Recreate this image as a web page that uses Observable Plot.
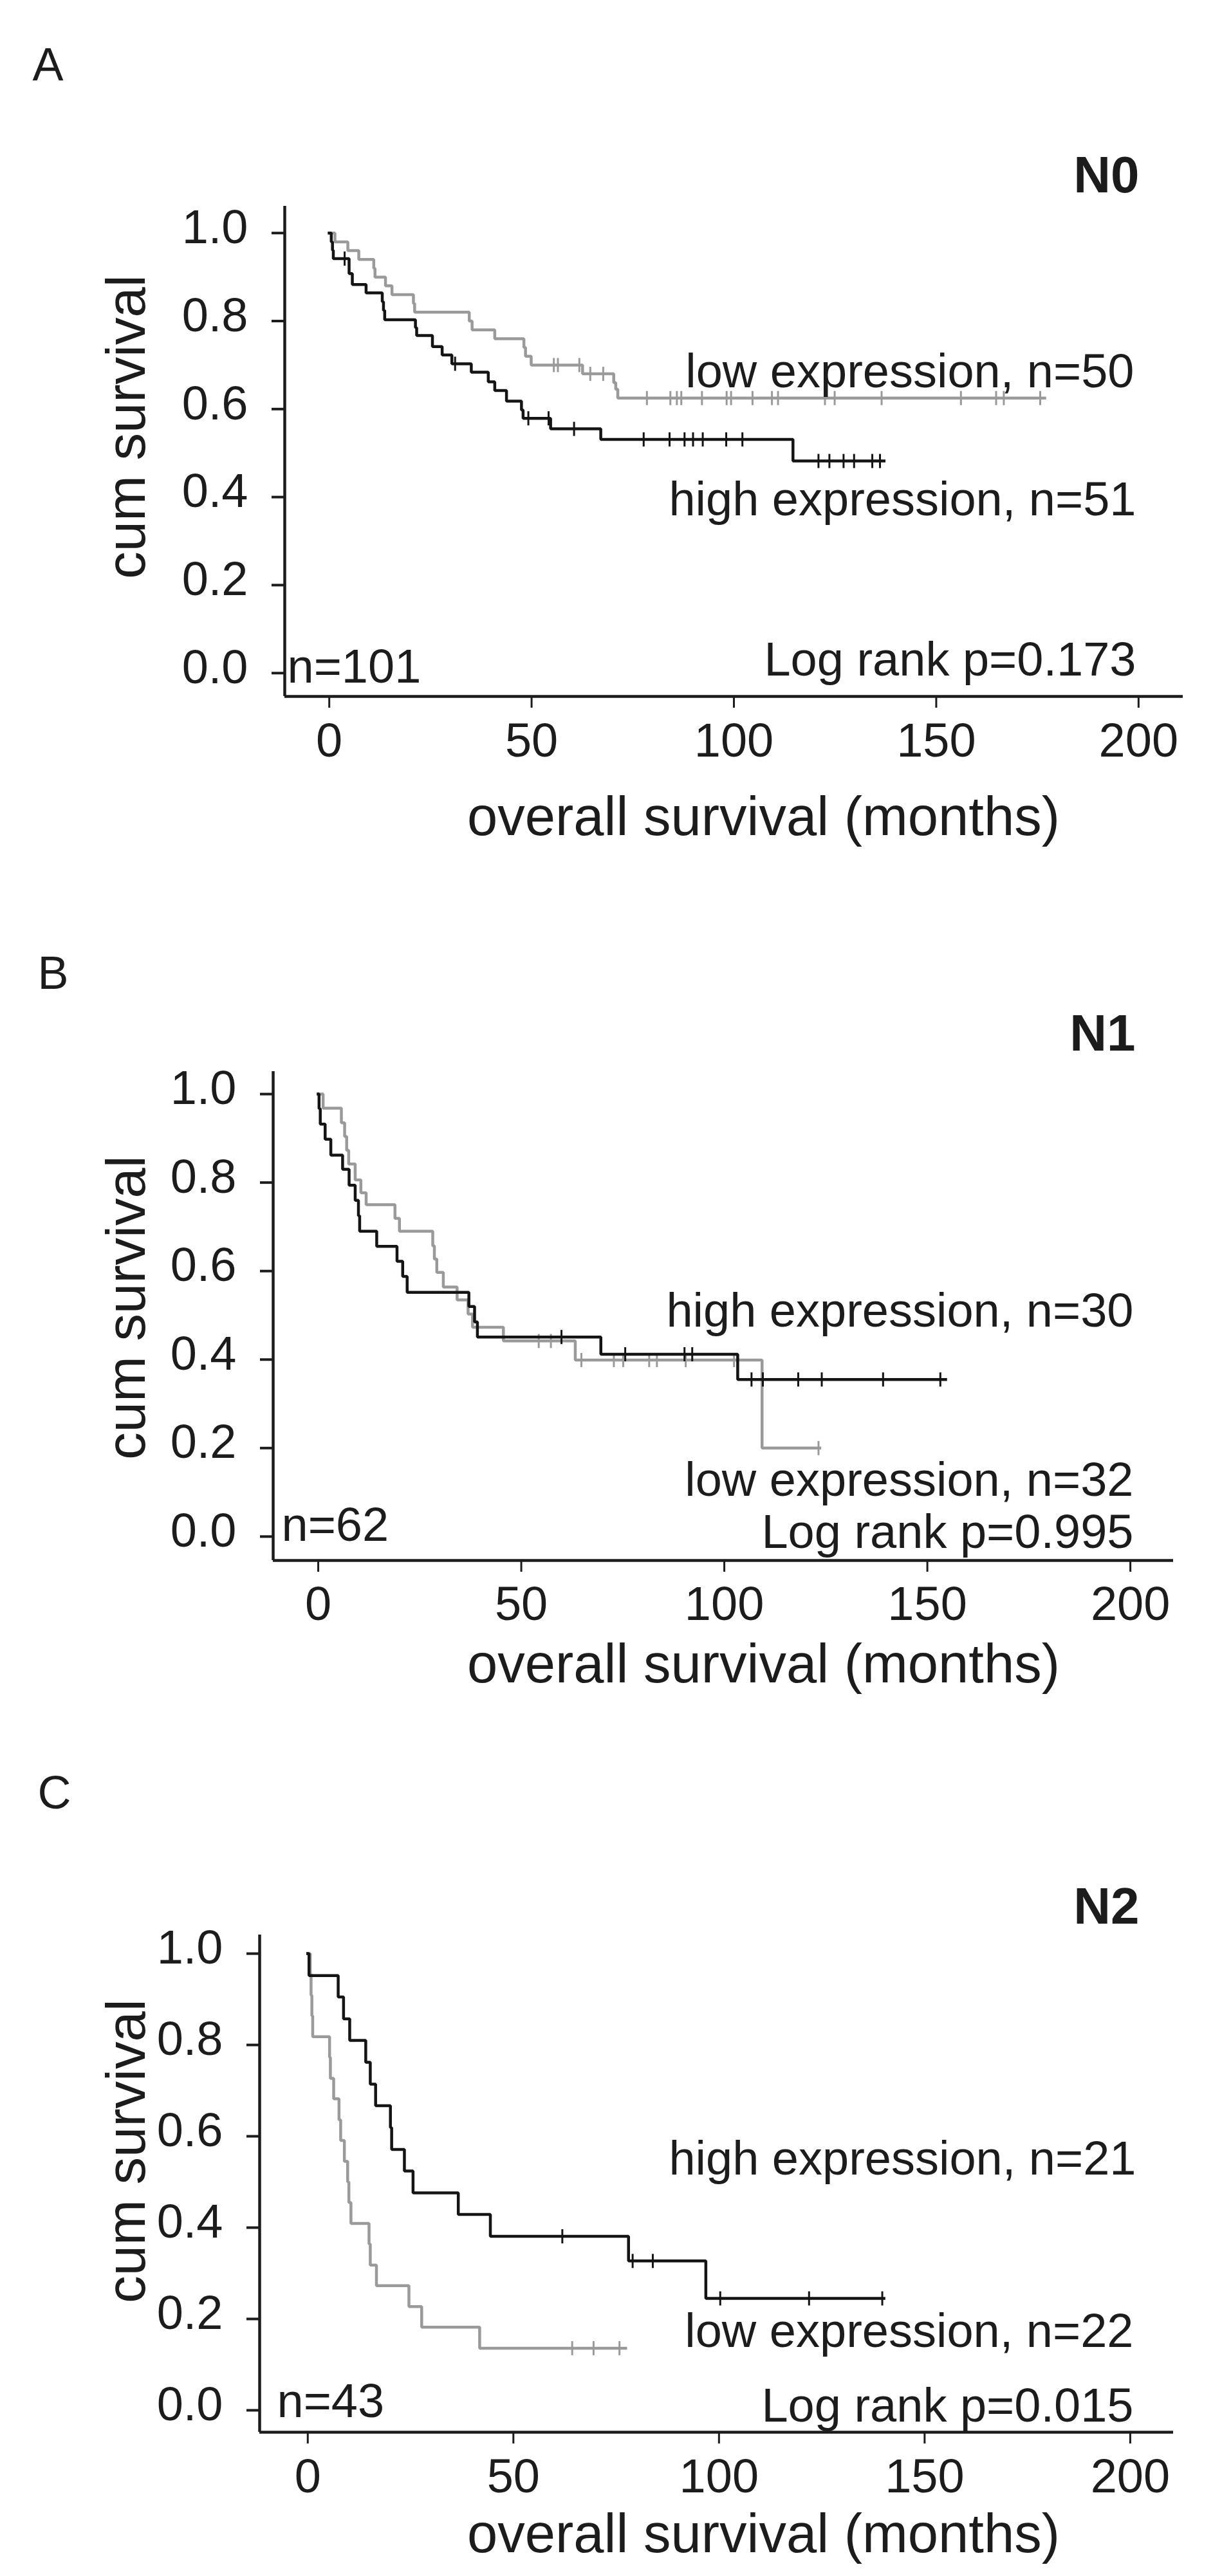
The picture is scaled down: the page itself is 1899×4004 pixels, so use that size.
<!DOCTYPE html>
<html><head><meta charset="utf-8">
<script src="https://cdn.jsdelivr.net/npm/d3@7"></script>
<script src="https://cdn.jsdelivr.net/npm/@observablehq/plot@0.6"></script>
<style>
html,body{margin:0;padding:0;background:#fff;overflow:hidden;}
#page{position:relative;width:1899px;height:4004px;background:#fff;}
#page svg{position:absolute;left:0;max-width:none !important;}
</style></head><body><div id="page"></div>
<script>
// ---------- tick labels ----------
const xTicks = [0, 50, 100, 150, 200];
const yTicks = [0, 0.2, 0.4, 0.6, 0.8, 1.0];

// ---------- Panel A : N0 ----------
const n0HighTime = [0, 0.5, 0.8, 1.0, 4.9, 5.7, 9.1, 13.1, 13.4, 13.7, 21.3, 21.6, 25.5, 27.9, 30.3, 35.1, 39.3, 40.9, 43.8, 47.5, 47.9, 54.7, 67.1, 114.6];
const n0HighSurv = [1, 0.98, 0.961, 0.942, 0.908, 0.883, 0.864, 0.844, 0.824, 0.803, 0.785, 0.767, 0.742, 0.723, 0.703, 0.684, 0.662, 0.642, 0.618, 0.598, 0.579, 0.555, 0.531, 0.482];
const n0HighEnd = 137.1;
const n0HighCensor = [3.8, 31.1, 49.2, 54.2, 60.5, 77.7, 84.1, 87.8, 89.9, 92.3, 98.1, 102.1, 120.9, 123.6, 127.1, 129.7, 134.2, 136.1];

const n0LowTime = [0, 1.4, 4.6, 7.3, 11.0, 11.3, 13.9, 15.5, 20.8, 21.1, 34.6, 35.3, 40.9, 48.1, 48.5, 49.9, 62.6, 70.3, 70.8, 71.3];
const n0LowSurv = [1, 0.98, 0.96, 0.94, 0.92, 0.90, 0.88, 0.86, 0.84, 0.82, 0.80, 0.78, 0.76, 0.74, 0.72, 0.70, 0.68, 0.66, 0.645, 0.625];
const n0LowEnd = 176.8;
const n0LowCensor = [55.5, 56.5, 61.8, 64.5, 67.7, 78.5, 84.3, 85.9, 87.0, 92.1, 98.2, 99.3, 104.6, 109.4, 110.9, 122.5, 124.9, 136.5, 156.1, 164.8, 166.7, 175.7];

// ---------- Panel B : N1 ----------
const n1HighTime = [0, 0.2, 0.5, 1.7, 3.1, 6.0, 7.6, 9.1, 9.9, 10.2, 14.4, 19.4, 20.8, 21.9, 37.1, 38.5, 39.2, 69.6, 103.3];
const n1HighSurv = [1, 0.967, 0.932, 0.898, 0.862, 0.83, 0.794, 0.76, 0.725, 0.69, 0.656, 0.622, 0.588, 0.552, 0.52, 0.485, 0.451, 0.412, 0.355];
const n1HighEnd = 154.5;
const n1HighCensor = [59.9, 75.6, 90.2, 92.1, 106.7, 109.5, 118.2, 124.0, 139.1, 153.2];

const n1LowTime = [0, 1.2, 5.7, 6.5, 7.0, 7.5, 9.1, 10.5, 11.8, 18.9, 20.0, 28.2, 28.6, 29.2, 30.8, 34.2, 36.9, 38.0, 45.6, 63.3, 109.3];
const n1LowSurv = [1, 0.968, 0.935, 0.904, 0.873, 0.842, 0.806, 0.777, 0.75, 0.719, 0.69, 0.657, 0.627, 0.597, 0.564, 0.535, 0.503, 0.473, 0.442, 0.399, 0.2];
const n1LowEnd = 123.5;
const n1LowCensor = [54.3, 57.3, 64.8, 72.8, 75.1, 81.5, 83.4, 90.5, 102.4, 123.2];

// ---------- Panel C : N2 ----------
const n2HighTime = [0, 0.3, 7.4, 8.7, 10.2, 14.1, 15.2, 16.5, 20.1, 20.4, 23.5, 25.6, 36.6, 44.4, 78.0, 96.8];
const n2HighSurv = [1, 0.952, 0.905, 0.857, 0.81, 0.762, 0.714, 0.667, 0.619, 0.571, 0.524, 0.476, 0.429, 0.381, 0.327, 0.245];
const n2HighEnd = 140.1;
const n2HighCensor = [61.9, 79.0, 83.9, 100.3, 121.9, 139.7];

const n2LowTime = [0, 0.6, 0.8, 1.0, 1.2, 5.3, 5.5, 6.3, 7.6, 8.0, 8.9, 9.7, 10.0, 10.5, 14.9, 15.2, 16.7, 24.6, 27.7, 41.8];
const n2LowSurv = [1, 0.955, 0.909, 0.864, 0.818, 0.773, 0.727, 0.682, 0.636, 0.591, 0.545, 0.5, 0.455, 0.409, 0.364, 0.318, 0.273, 0.227, 0.182, 0.136];
const n2LowEnd = 77.3;
const n2LowCensor = [64.3, 69.5, 75.8];

// ---------- text ----------
const xLabel = "overall survival (months)";
const yLabel = "cum survival";

// ---------- styling ----------
const FONT = "'Liberation Sans', Arial, Helvetica, sans-serif";
const INK = "#1c1c1c";
const HIGH = "#141414";
const LOW = "#9a9a9a";

function stepPoints(time, surv, end) {
  const pts = time.map((t, i) => ({t, s: surv[i]}));
  pts.push({t: end, s: surv[surv.length - 1]});
  return pts;
}
function censorPoints(time, surv, cens) {
  return cens.map(c => {
    const i = Math.max(0, d3.bisectRight(time, c) - 1);
    return {t: c, s: surv[i]};
  });
}
const vbar = {draw(ctx, size) { const h = Math.sqrt(size / Math.PI); ctx.moveTo(0, -h); ctx.lineTo(0, h); }};

function panel(p) {
  const [fl, fr, ft, fb] = p.frame;
  const note = (text, x, y, o = {}) => Plot.text([text], {
    text: d => d, frameAnchor: "top-left", dx: x - fl, dy: y - ft,
    lineAnchor: "bottom", textAnchor: o.anchor || "start",
    fontSize: o.size || 74, fontWeight: o.weight || "normal",
    rotate: o.rotate || 0, fill: INK
  });
  const marks = [];
  for (const s of p.series) {
    marks.push(Plot.line(stepPoints(s.time, s.surv, s.end), {x: "t", y: "s", curve: "step-after", stroke: s.color, strokeWidth: 4.5, strokeLinejoin: "miter", strokeLinecap: "square"}));
    marks.push(Plot.dot(censorPoints(s.time, s.surv, s.censor), {x: "t", y: "s", symbol: vbar, r: 11, stroke: s.color, strokeWidth: 3, fill: "none"}));
  }
  marks.push(
    Plot.axisY({ticks: yTicks, tickSize: 20, fill: "none", label: null, stroke: INK, strokeWidth: 4}),
    Plot.axisY({ticks: yTicks, tickSize: 0, tickPadding: 57, dy: p.yLabelDy, label: null, fill: INK, tickFormat: d3.format(".1f")}),
    Plot.axisX({ticks: xTicks, tickSize: 18, fill: "none", label: null, stroke: INK, strokeWidth: 3}),
    Plot.axisX({ticks: xTicks, tickSize: 0, tickPadding: p.xPad, label: null, fill: INK, tickFormat: d3.format("d")}),
    Plot.ruleX([p.xDomain[0]], {stroke: INK, strokeWidth: 4.5}),
    Plot.ruleY([p.yDomain[0]], {stroke: INK, strokeWidth: 4.5})
  );
  for (const t of p.texts) marks.push(note(t[0], t[1], t[2], t[3]));
  const svg = Plot.plot({
    width: 1899, height: p.height,
    marginLeft: fl, marginRight: 1899 - fr, marginTop: ft - p.top, marginBottom: p.top + p.height - fb,
    x: {domain: p.xDomain}, y: {domain: p.yDomain},
    style: {fontFamily: FONT, fontSize: "74px", color: INK, background: "#fff", overflow: "visible"},
    marks
  });
  svg.style.top = p.top + "px";
  return svg;
}

const page = document.getElementById("page");
page.append(panel({
  top: 0, height: 1330, frame: [442, 1838, 320, 1082],
  xDomain: [-11, 211], yDomain: [-0.053, 1.061], yLabelDy: -8, xPad: 41,
  series: [
    {time: n0LowTime, surv: n0LowSurv, end: n0LowEnd, censor: n0LowCensor, color: LOW},
    {time: n0HighTime, surv: n0HighSurv, end: n0HighEnd, censor: n0HighCensor, color: HIGH}
  ],
  texts: [
    ["A", 50, 124, {size: 72}],
    ["N0", 1770, 298, {anchor: "end", weight: "bold", size: 80}],
    ["low expression, n=50", 1762, 601, {anchor: "end"}],
    ["high expression, n=51", 1765, 800, {anchor: "end"}],
    ["Log rank p=0.173", 1765, 1049, {anchor: "end"}],
    ["n=101", 446, 1060, {}],
    [xLabel, 1186, 1297, {anchor: "middle", size: 85}],
    [yLabel, 224, 663, {anchor: "middle", size: 85, rotate: -90}]
  ]
}));
page.append(panel({
  top: 1330, height: 1330, frame: [424, 1823, 1665, 2425],
  xDomain: [-11.1, 210.6], yDomain: [-0.054, 1.051], yLabelDy: -8, xPad: 40,
  series: [
    {time: n1LowTime, surv: n1LowSurv, end: n1LowEnd, censor: n1LowCensor, color: LOW},
    {time: n1HighTime, surv: n1HighSurv, end: n1HighEnd, censor: n1HighCensor, color: HIGH}
  ],
  texts: [
    ["B", 58, 1536, {size: 72}],
    ["N1", 1764, 1632, {anchor: "end", weight: "bold", size: 80}],
    ["high expression, n=30", 1761, 2061, {anchor: "end"}],
    ["low expression, n=32", 1761, 2324, {anchor: "end"}],
    ["Log rank p=0.995", 1761, 2405, {anchor: "end"}],
    ["n=62", 437, 2394, {}],
    [xLabel, 1186, 2614, {anchor: "middle", size: 85}],
    [yLabel, 224, 2032, {anchor: "middle", size: 85, rotate: -90}]
  ]
}));
page.append(panel({
  top: 2660, height: 1344, frame: [403, 1823, 3007, 3780],
  xDomain: [-11.7, 210.5], yDomain: [-0.048, 1.041], yLabelDy: -8, xPad: 41,
  series: [
    {time: n2LowTime, surv: n2LowSurv, end: n2LowEnd, censor: n2LowCensor, color: LOW},
    {time: n2HighTime, surv: n2HighSurv, end: n2HighEnd, censor: n2HighCensor, color: HIGH}
  ],
  texts: [
    ["C", 58, 2810, {size: 72}],
    ["N2", 1770, 2989, {anchor: "end", weight: "bold", size: 80}],
    ["high expression, n=21", 1765, 3379, {anchor: "end"}],
    ["low expression, n=22", 1761, 3647, {anchor: "end"}],
    ["Log rank p=0.015", 1761, 3763, {anchor: "end"}],
    ["n=43", 430, 3756, {}],
    [xLabel, 1186, 3966, {anchor: "middle", size: 85}],
    [yLabel, 224, 3343, {anchor: "middle", size: 85, rotate: -90}]
  ]
}));
</script></body></html>
